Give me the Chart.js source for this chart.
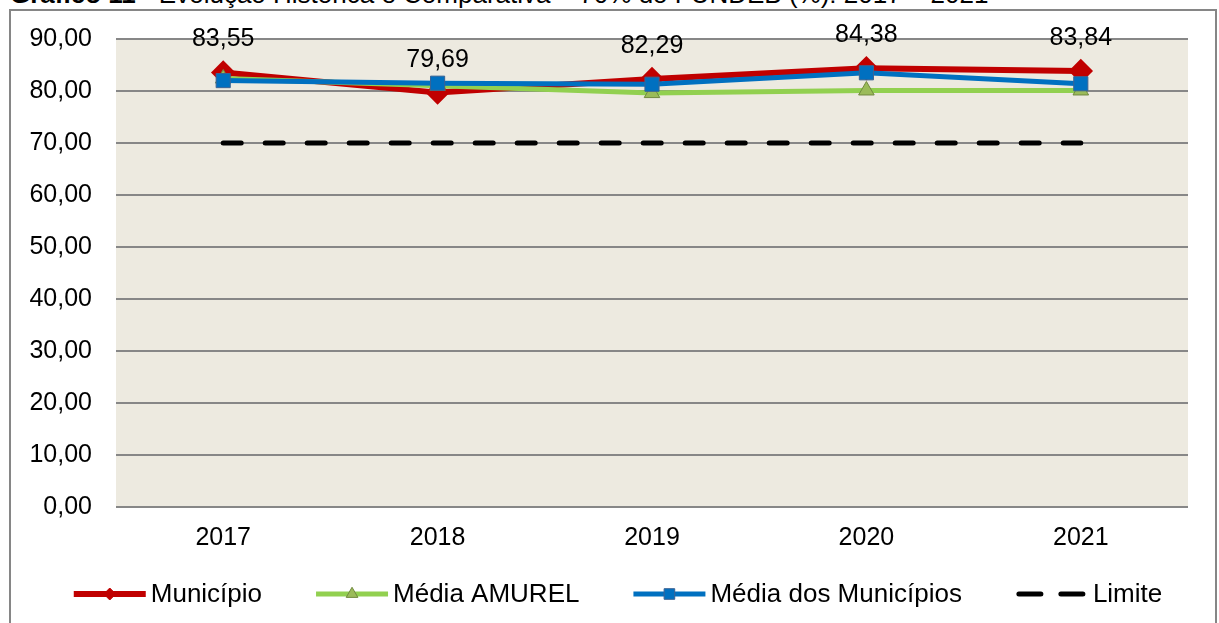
<!DOCTYPE html>
<html>
<head>
<meta charset="utf-8">
<script src="https://cdn.jsdelivr.net/npm/chart.js@4/dist/chart.umd.min.js"></script>
<style>
  html, body { margin: 0; padding: 0; background: #fff; overflow: hidden; }
  #titulo { position: absolute; left: 10px; top: -19px; font: 26px "Liberation Sans", Arial, sans-serif; color: #000; white-space: nowrap; line-height: 26px; }
  #moldura { position: absolute; left: 9px; top: 9px; width: 1204px; height: 640px; border: 2px solid #868686; }
  #wrap { position: absolute; left: 0; top: 0; width: 1219px; height: 623px; }
</style>
</head>
<body>
<div id="titulo"><b>Gráfico 11 -</b> Evolução Histórica e Comparativa – 70% do FUNDEB (%): 2017 – 2021</div>
<div id="moldura"></div>
<div id="wrap"><canvas id="grafico"></canvas></div>
<script>
var anos = ['2017', '2018', '2019', '2020', '2021'];
var municipio = [83.55, 79.69, 82.29, 84.38, 83.84];
var mediaAmurel = [82.4, 81.0, 79.6, 80.1, 80.1];
var mediaMunicipios = [82.0, 81.5, 81.3, 83.5, 81.4];
var limite = [70, 70, 70, 70, 70];

var fonte = '"Liberation Sans", Arial, sans-serif';
var tamFonte = 25;

function fmt(v) {
  return v.toFixed(2).replace('.', ',');
}

// fundo da area do grafico
const fundoPlot = {
  id: 'fundoPlot',
  beforeDraw(chart) {
    const a = chart.chartArea;
    const ctx = chart.ctx;
    ctx.save();
    ctx.fillStyle = '#EDEAE0';
    ctx.fillRect(a.left, a.top, a.right - a.left, a.bottom - a.top);
    ctx.restore();
  }
};

// rotulos dos valores do municipio
const rotulos = {
  id: 'rotulos',
  afterDatasetsDraw(chart) {
    const ctx = chart.ctx;
    const meta = chart.getDatasetMeta(0);
    ctx.save();
    ctx.font = tamFonte + 'px ' + fonte;
    ctx.fillStyle = '#000';
    ctx.textAlign = 'center';
    ctx.textBaseline = 'middle';
    meta.data.forEach(function (pt, i) {
      ctx.fillText(fmt(municipio[i]), pt.x, pt.y - 33);
    });
    ctx.restore();
  }
};

// legenda com linha + marcador
const legenda = {
  id: 'legenda',
  afterDraw(chart) {
    const ctx = chart.ctx;
    const ds = chart.data.datasets;
    const y = 594;
    const linha = 72;
    ctx.save();
    ctx.font = '26px ' + fonte;
    var larguras = ds.map(function (d) { return ctx.measureText(d.label).width; });
    var total = 0;
    larguras.forEach(function (w) { total += linha + 5 + w; });
    total += 54 * (ds.length - 1);
    var x = 618 - total / 2;
    ds.forEach(function (d, i) {
      ctx.save();
      ctx.strokeStyle = d.borderColor;
      ctx.lineWidth = d.borderWidth;
      ctx.lineCap = d.borderCapStyle || 'butt';
      if (d.borderDash) ctx.setLineDash([22, 20]);
      ctx.beginPath();
      ctx.moveTo(x + (d.borderDash ? 3 : 0), y);
      ctx.lineTo(x + linha - (d.borderDash ? 3 : 0), y);
      ctx.stroke();
      ctx.restore();
      if (d.pointRadius > 0) {
        ctx.save();
        ctx.fillStyle = d.pointBackgroundColor;
        ctx.strokeStyle = d.pointBorderColor;
        ctx.lineWidth = 1;
        Chart.helpers.drawPoint(ctx, {
          pointStyle: d.pointStyle,
          radius: d.pointRadius * 0.75,
          rotation: 0,
          borderWidth: 1
        }, x + linha / 2, y);
        ctx.restore();
      }
      ctx.fillStyle = '#000';
      ctx.textAlign = 'left';
      ctx.textBaseline = 'middle';
      ctx.fillText(d.label, x + linha + 5, y + 1);
      x += linha + 5 + larguras[i] + 54;
    });
    ctx.restore();
  }
};

const dados = {
  labels: anos,
  datasets: [{
    label: 'Município',
    data: municipio,
    borderColor: '#C00000',
    backgroundColor: '#C00000',
    borderWidth: 6,
    pointStyle: 'rectRot',
    pointRadius: 8,
    pointBackgroundColor: '#C00000',
    pointBorderColor: '#C00000',
    order: 4
  },
  {
    label: 'Média AMUREL',
    data: mediaAmurel,
    borderColor: '#92D050',
    backgroundColor: '#9BBB59',
    borderWidth: 5,
    pointStyle: 'triangle',
    pointRadius: 9,
    pointBackgroundColor: '#9BBB59',
    pointBorderColor: '#71893F',
    pointBorderWidth: 1,
    order: 3
  },
  {
    label: 'Média dos Municípios',
    data: mediaMunicipios,
    borderColor: '#0070C0',
    backgroundColor: '#0070C0',
    borderWidth: 5,
    pointStyle: 'rect',
    pointRadius: 10,
    pointBackgroundColor: '#0070C0',
    pointBorderColor: '#3B6394',
    pointBorderWidth: 1,
    order: 2
  },
  {
    label: 'Limite',
    data: limite,
    borderColor: '#000000',
    backgroundColor: '#000000',
    borderWidth: 5,
    borderDash: [18, 24],
    borderCapStyle: 'round',
    pointRadius: 0,
    order: 1
  }]
};

const config = {
  type: 'line',
  data: dados,
  options: {
    responsive: true,
    maintainAspectRatio: false,
    animation: false,
    layout: { padding: { left: 0, right: 31, top: 38, bottom: 56 } },
    plugins: {
      legend: { display: false },
      tooltip: { enabled: false }
    },
    scales: {
      x: {
        offset: true,
        grid: { display: false, drawTicks: false },
        border: { display: false },
        ticks: { color: '#000', font: { family: fonte, size: tamFonte }, padding: 16 },
        afterFit: function (s) { s.height = 60; }
      },
      y: {
        min: 0,
        max: 90,
        grid: { color: '#878787', lineWidth: 2, drawTicks: false },
        border: { display: false },
        ticks: {
          stepSize: 10,
          color: '#000',
          font: { family: fonte, size: tamFonte },
          padding: 24,
          callback: function (v) { return fmt(v); }
        },
        afterFit: function (s) { s.width = 116; }
      }
    }
  },
  plugins: [fundoPlot, rotulos, legenda]
};

const grafico = new Chart(document.getElementById('grafico'), config);
</script>
</body>
</html>
